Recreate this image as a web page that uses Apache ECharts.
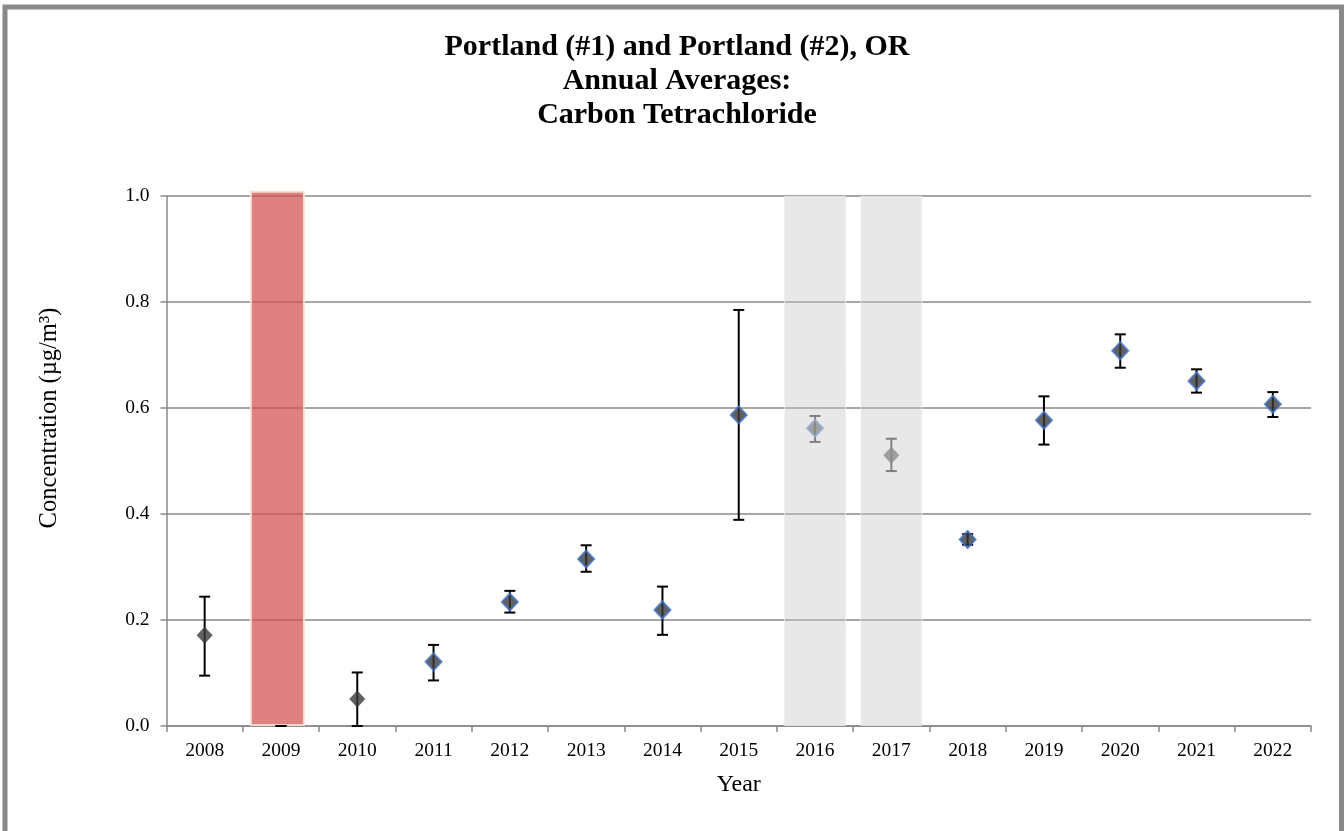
<!DOCTYPE html>
<html>
<head>
<meta charset="utf-8">
<title>Carbon Tetrachloride</title>
<script src="https://cdn.jsdelivr.net/npm/echarts@6/dist/echarts.min.js"></script>
<style>
  html, body { margin: 0; padding: 0; background: #fff; }
  #main { width: 1344px; height: 831px; }
</style>
</head>
<body>
<div id="main"></div>
<script>
// data
var years = ['2008', '2009', '2010', '2011', '2012', '2013', '2014', '2015',
  '2016', '2017', '2018', '2019', '2020', '2021', '2022'];
var means = [0.171, null, 0.051, 0.121, 0.234, 0.315, 0.219, 0.587,
  0.562, 0.511, 0.352, 0.577, 0.708, 0.651, 0.607];
var lows = [0.095, 0, 0.000, 0.086, 0.214, 0.291, 0.172, 0.389,
  0.536, 0.481, 0.342, 0.531, 0.676, 0.629, 0.583];
var highs = [0.244, 0, 0.101, 0.153, 0.255, 0.341, 0.263, 0.785,
  0.585, 0.542, 0.362, 0.622, 0.739, 0.673, 0.630];
var redYears = ['2009'];
var greyYears = ['2016', '2017'];
var plainYears = ['2008', '2010', '2017'];
var yTicks = [0, 0.2, 0.4, 0.6, 0.8, 1.0];

var serif = '"Liberation Serif", "Times New Roman", serif';
var myChart = echarts.init(document.getElementById('main'));

var redBars = years.map(function (y) { return redYears.indexOf(y) >= 0 ? 1.01 : '-'; });
var greyBars = years.map(function (y) { return greyYears.indexOf(y) >= 0 ? 1.0 : '-'; });

var points = [];
var errs = [];
for (var i = 0; i < years.length; i++) {
  errs.push([i, lows[i], highs[i]]);
  if (means[i] == null) continue;
  var grey = greyYears.indexOf(years[i]) >= 0;
  var plain = plainYears.indexOf(years[i]) >= 0;
  points.push({
    value: [i, means[i]],
    itemStyle: {
      color: grey ? '#8c8c8c' : '#3a3a3a',
      borderColor: plain ? (grey ? '#8c8c8c' : '#3a3a3a') : (grey ? '#97acd8' : '#4472c4'),
      borderWidth: plain ? 0 : 2
    }
  });
}

var option = {
  animation: false,
  title: {
    text: 'Portland (#1) and Portland (#2), OR\nAnnual Averages:\nCarbon Tetrachloride',
    left: 672,
    textAlign: 'center',
    top: 25,
    textStyle: {
      fontFamily: serif,
      fontSize: 30,
      fontWeight: 'bold',
      color: '#000',
      lineHeight: 34
    }
  },
  graphic: [
    {
      type: 'rect',
      shape: { x: 5, y: 7, width: 1336.5, height: 900 },
      style: { fill: 'none', stroke: '#898989', lineWidth: 5 },
      silent: true
    },
    {
      type: 'text',
      x: 50,
      y: 418,
      rotation: Math.PI / 2,
      style: {
        text: 'Concentration (µg/m³)',
        font: '24.5px ' + serif,
        fill: '#000',
        align: 'center',
        verticalAlign: 'middle'
      }
    }
  ],
  grid: { left: 166.5, right: 33, top: 196, bottom: 105 },
  xAxis: {
    type: 'category',
    data: years,
    name: 'Year',
    nameLocation: 'middle',
    nameGap: 47,
    nameTextStyle: { fontFamily: serif, fontSize: 24, color: '#000' },
    axisLine: { lineStyle: { color: '#888', width: 1.5 } },
    axisTick: { show: true, length: 6, lineStyle: { color: '#888', width: 1.5 } },
    axisLabel: { fontFamily: serif, fontSize: 19.5, color: '#000', margin: 15 },
    splitLine: { show: false }
  },
  yAxis: {
    type: 'value',
    min: 0,
    max: 1.0,
    interval: 0.2,
    axisLine: { show: true, lineStyle: { color: '#888', width: 1.5 } },
    axisTick: { show: true, length: 6, lineStyle: { color: '#888', width: 1.5 } },
    axisLabel: {
      fontFamily: serif, fontSize: 19.5, color: '#000', margin: 17,
      formatter: function (v) {
        return yTicks.indexOf(Math.round(v * 10) / 10) >= 0 ? v.toFixed(1) : '';
      }
    },
    splitLine: { show: true, lineStyle: { color: '#888', width: 1.5 } }
  },
  series: [
    {
      name: 'excluded',
      type: 'bar',
      data: redBars,
      barWidth: 55,
      barGap: '-100%',
      clip: false,
      z: 3,
      itemStyle: {
        color: 'rgba(210,80,80,0.72)',
        borderColor: 'rgba(250,225,215,0.9)',
        borderWidth: 2
      }
    },
    {
      name: 'incomplete',
      type: 'bar',
      data: greyBars,
      barWidth: 62,
      barGap: '-100%',
      z: 1,
      itemStyle: {
        color: 'rgba(200,200,200,0.42)',
        borderColor: 'rgba(240,240,232,0.8)',
        borderWidth: 1
      }
    },
    {
      name: 'error',
      type: 'custom',
      z: 4,
      data: errs,
      renderItem: function (params, api) {
        var idx = api.value(0);
        var lo = api.coord([idx, api.value(1)]);
        var hi = api.coord([idx, api.value(2)]);
        var grey = greyYears.indexOf(years[idx]) >= 0;
        var c = grey ? '#808080' : '#000';
        var w = 5.5;
        var st = { stroke: c, lineWidth: 2 };
        return {
          type: 'group',
          children: [
            { type: 'line', shape: { x1: lo[0], y1: lo[1], x2: hi[0], y2: hi[1] }, style: st },
            { type: 'line', shape: { x1: lo[0] - w, y1: lo[1], x2: lo[0] + w, y2: lo[1] }, style: st },
            { type: 'line', shape: { x1: hi[0] - w, y1: hi[1], x2: hi[0] + w, y2: hi[1] }, style: st }
          ]
        };
      }
    },
    {
      name: 'mean',
      type: 'scatter',
      symbol: 'diamond',
      symbolSize: [16, 17],
      z: 5,
      data: points
    }
  ]
};
myChart.setOption(option);
</script>
</body>
</html>
